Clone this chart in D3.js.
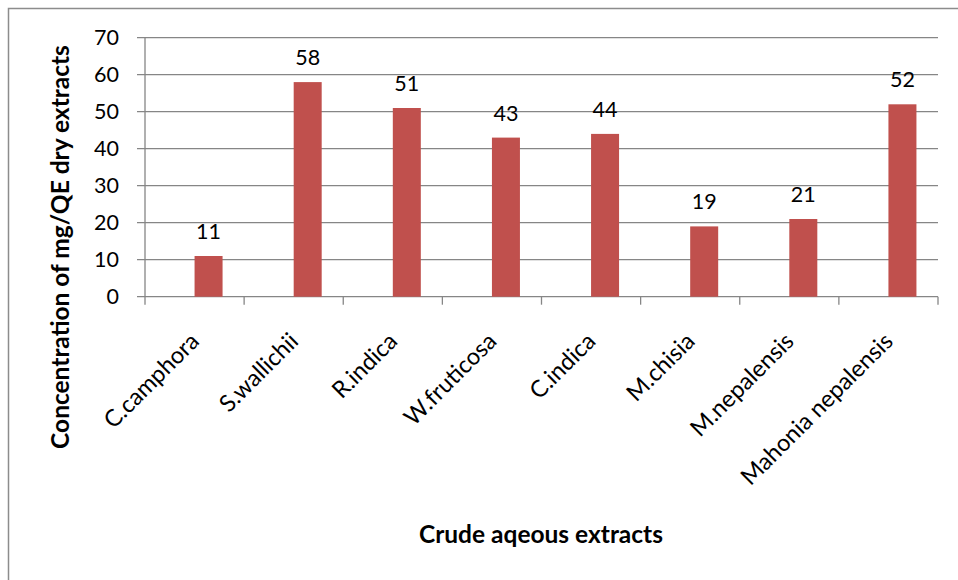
<!DOCTYPE html>
<html><head><meta charset="utf-8">
<script src="https://cdn.jsdelivr.net/npm/d3@7"></script>
<style>body{margin:0;background:#fff}svg{display:block}text{font-family:Lato,"Open Sans",sans-serif}</style>
</head><body><svg id="c" width="958" height="580"></svg>
<script>
const categories = ["C.camphora","S.wallichii","R.indica","W.fruticosa","C.indica","M.chisia","M.nepalensis","Mahonia nepalensis"];
const values = [11,58,51,43,44,19,21,52];
const yTicks = [0,10,20,30,40,50,60,70];

const svg = d3.select("#c");
const L=145, R=938, T=37.7, B=296.7;
svg.append("rect").attr("x",8.5).attr("y",8.5).attr("width",1000).attr("height",1000)
  .attr("fill","none").attr("stroke","#8c8c8c").attr("stroke-width",1.5);

const x = d3.scaleBand().domain(categories).range([L,R]);
const y = d3.scaleLinear().domain([0,70]).range([B,T]);

// gridlines
svg.append("g").selectAll("line").data(yTicks).join("line")
  .attr("x1",L-8).attr("x2",R).attr("y1",d=>y(d)).attr("y2",d=>y(d))
  .attr("stroke","#868686").attr("stroke-width",1.3);
// y axis line
svg.append("line").attr("x1",L).attr("x2",L).attr("y1",T).attr("y2",B).attr("stroke","#868686").attr("stroke-width",1.3);
// x ticks
const xt = categories.map((c,i)=>L+i*x.step()).concat([R]);
svg.append("g").selectAll("line").data(xt).join("line")
  .attr("x1",d=>d).attr("x2",d=>d).attr("y1",B).attr("y2",B+8)
  .attr("stroke","#868686").attr("stroke-width",1.3);
// y labels
svg.append("g").selectAll("text").data(yTicks).join("text")
  .attr("x",L-26).attr("y",d=>y(d)).attr("dy","0.35em").attr("text-anchor","end")
  .attr("font-size",21.5).attr("fill","#000").text(d=>d);
// bars
const bw = 28;
svg.append("g").selectAll("rect").data(values).join("rect")
  .attr("x",(d,i)=>x(categories[i])+x.bandwidth()/2).attr("width",bw)
  .attr("y",d=>y(d)).attr("height",d=>B-y(d)).attr("fill","#C0504D");
// value labels
svg.append("g").selectAll("text").data(values).join("text")
  .attr("x",(d,i)=>x(categories[i])+x.bandwidth()/2+bw/2).attr("y",d=>y(d)-17)
  .attr("text-anchor","middle").attr("font-size",21.5).attr("fill","#000").text(d=>d);
// category labels
svg.append("g").selectAll("text").data(categories).join("text")
  .attr("transform",d=>`translate(${x(d)+x.bandwidth()/2+6},${B+46}) rotate(-45)`)
  .attr("text-anchor","end").attr("font-size",23.5).attr("fill","#000").text(d=>d);
// axis titles
svg.append("text").attr("transform",`translate(69,247) rotate(-90)`).attr("text-anchor","middle")
  .attr("font-size",24.5).attr("font-weight","bold").text("Concentration of mg/QE dry extracts");
svg.append("text").attr("x",541).attr("y",543).attr("text-anchor","middle")
  .attr("font-size",24.5).attr("font-weight","bold").text("Crude aqeous extracts");
</script></body></html>
